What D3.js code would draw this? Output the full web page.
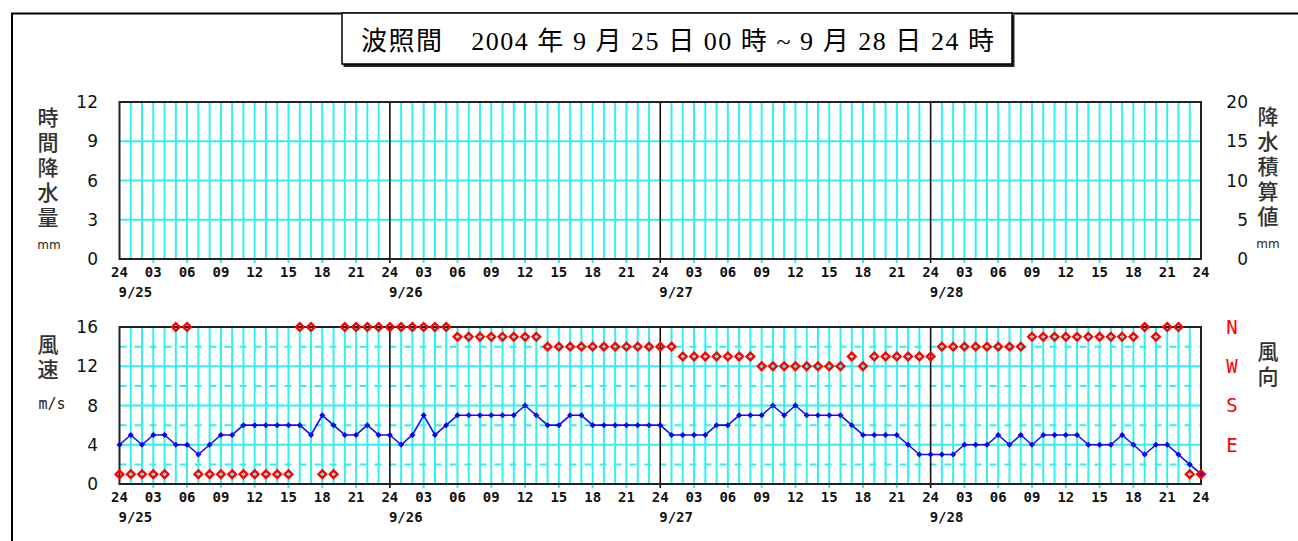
<!DOCTYPE html>
<html><head><meta charset="utf-8">
<script src="https://cdn.jsdelivr.net/npm/d3@7"></script>
<style>
html,body{margin:0;padding:0;background:#fff;}
svg{display:block;}
</style></head>
<body>
<svg id="c" width="1298" height="541"></svg>
<script>
// ---------- data ----------
const titleText = "波照間　2004 年 9 月 25 日 00 時 ~ 9 月 28 日 24 時";
const dayLabels = ["9/25", "9/26", "9/27", "9/28"];
const hours = d3.range(0, 97);              // hourly steps, 9/25 00h .. 9/28 24h
const rainHourly = [];                        // no rainfall recorded
const rainTicks = [0, 3, 6, 9, 12];
const rainAccTicks = [0, 5, 10, 15, 20];
const windTicks = [0, 4, 8, 12, 16];
const windDashTicks = [2, 6, 10, 14];
const dirLabels = [["N", 16], ["W", 12], ["S", 8], ["E", 4]];
// wind speed m/s, one value per hour
const windSpeed = [
  4,5,4,5,5,4,4,3,4,5,5,6,6,6,6,6,6,5,7,6,5,5,6,5,5,
  4,5,7,5,6,7,7,7,7,7,7,8,7,6,6,7,7,6,6,6,6,6,6,6,
  5,5,5,5,6,6,7,7,7,8,7,8,7,7,7,7,6,5,5,5,5,4,3,3,
  3,3,4,4,4,5,4,5,4,5,5,5,5,4,4,4,5,4,3,4,4,3,2,1
];
// wind direction, 16-point compass code (16=N, 12=W, 8=S, 4=E, 1=NNE)
const windDir = [
  1,1,1,1,1,16,16,1,1,1,1,1,1,1,1,1,16,16,1,1,16,16,16,16,16,
  16,16,16,16,16,15,15,15,15,15,15,15,15,14,14,14,14,14,14,14,14,14,14,
  14,14,13,13,13,13,13,13,13,12,12,12,12,12,12,12,12,13,12,13,13,13,13,13,13,
  14,14,14,14,14,14,14,14,15,15,15,15,15,15,15,15,15,15,16,15,16,16,1,1
];

// ---------- layout ----------
const svg = d3.select("#c");
const X0 = 119.5, X1 = 1201;
const x = d3.scaleLinear().domain([0, 96]).range([X0, X1]);
const yTop = d3.scaleLinear().domain([0, 12]).range([259, 102]);
const yTopR = d3.scaleLinear().domain([0, 20]).range([259, 102]);
const yBot = d3.scaleLinear().domain([0, 16]).range([484, 327]);
const CYAN = "#33f0f0";
const monoFont = "'DejaVu Sans Mono', monospace";
const sansFont = "'DejaVu Sans', sans-serif";
const cjkFont = "'Noto Sans CJK JP', sans-serif";

// outer frame
svg.append("path").attr("d", "M12,541 V13.5 H1298").attr("fill", "none")
  .attr("stroke", "#000").attr("stroke-width", 2);

// title box with shadow
svg.append("rect").attr("x", 343.5).attr("y", 15).attr("width", 671).attr("height", 52).attr("fill", "#222");
svg.append("rect").attr("x", 342).attr("y", 13).attr("width", 670).attr("height", 51)
  .attr("fill", "#fff").attr("stroke", "#000").attr("stroke-width", 1.5);
svg.append("text").attr("x", 361).attr("y", 50)
  .attr("font-family", "'Liberation Serif', 'Noto Sans CJK JP', serif")
  .attr("font-size", 26).attr("fill", "#000")
  .attr("textLength", 633).attr("lengthAdjust", "spacing")
  .text(titleText);

function panel(yScale, ticksSolid, ticksDash) {
  const g = svg.append("g");
  const [yb, yt] = yScale.range();
  g.selectAll("line.v").data(hours.filter(h => h > 0 && h < 96 && h % 24 !== 0)).join("line")
    .attr("x1", d => x(d)).attr("x2", d => x(d))
    .attr("y1", yt).attr("y2", d => d % 3 === 0 ? yb + 4 : yb)
    .attr("stroke", CYAN).attr("stroke-width", 2);
  g.selectAll("line.h").data(ticksSolid.slice(1, -1)).join("line")
    .attr("x1", X0).attr("x2", X1).attr("y1", d => yScale(d)).attr("y2", d => yScale(d))
    .attr("stroke", CYAN).attr("stroke-width", 2);
  g.selectAll("line.d").data(ticksDash).join("line")
    .attr("x1", X0).attr("x2", X1).attr("y1", d => yScale(d)).attr("y2", d => yScale(d))
    .attr("stroke", CYAN).attr("stroke-width", 2).attr("stroke-dasharray", "7,8");
  g.selectAll("line.day").data([24, 48, 72]).join("line")
    .attr("x1", d => x(d)).attr("x2", d => x(d)).attr("y1", yt).attr("y2", yb + 4)
    .attr("stroke", "#111").attr("stroke-width", 1.6);
  g.append("rect").attr("x", X0).attr("y", yt).attr("width", X1 - X0).attr("height", yb - yt)
    .attr("fill", "none").attr("stroke", "#222").attr("stroke-width", 2);
  const tickHours = hours.filter(h => h % 3 === 0);
  g.selectAll("text.xt").data(tickHours).join("text")
    .attr("x", d => x(d)).attr("y", yb + 18).attr("text-anchor", "middle")
    .attr("font-family", monoFont).attr("font-size", 14).attr("font-weight", "bold").attr("fill", "#111")
    .text(d => (d % 24 === 0) ? "24" : String(d % 24).padStart(2, "0"));
  g.selectAll("text.dl").data(dayLabels).join("text")
    .attr("x", (d, i) => x(i * 24) - 1).attr("y", yb + 38)
    .attr("font-family", monoFont).attr("font-size", 14).attr("font-weight", "bold").attr("fill", "#111")
    .text(d => d);
  return g;
}

// ---------- top panel: rainfall ----------
panel(yTop, rainTicks, []);
svg.selectAll("text.ly").data(rainTicks).join("text").attr("class", "ly")
  .attr("x", 98).attr("y", d => yTop(d)).attr("dy", "0.36em").attr("text-anchor", "end")
  .attr("font-family", sansFont).attr("font-size", 17).attr("fill", "#111").text(d => d);
svg.selectAll("text.ry").data(rainAccTicks).join("text").attr("class", "ry")
  .attr("x", 1248).attr("y", d => yTopR(d)).attr("dy", "0.36em").attr("text-anchor", "end")
  .attr("font-family", sansFont).attr("font-size", 17).attr("fill", "#111").text(d => d);
svg.selectAll("rect.rain").data(rainHourly).join("rect").attr("class", "rain")
  .attr("x", d => x(d.h) - 4).attr("width", 8)
  .attr("y", d => yTop(d.v)).attr("height", d => yTop(0) - yTop(d.v)).attr("fill", "#00f");

// vertical CJK label as one text element
function vlabel(chars, cx, yTopEdge) {
  svg.append("text").attr("x", cx).attr("y", yTopEdge)
    .attr("writing-mode", "vertical-rl").attr("glyph-orientation-vertical", 0)
    .style("writing-mode", "vertical-rl")
    .attr("letter-spacing", 4)
    .attr("font-family", cjkFont).attr("font-size", 21)
    .attr("font-weight", 500).attr("fill", "#333").text(chars);
}
vlabel("時間降水量", 48, 107);
vlabel("降水積算値", 1268, 106);
svg.append("text").attr("x", 49).attr("y", 245).attr("dy", "0.35em").attr("text-anchor", "middle")
  .attr("font-family", sansFont).attr("font-size", 12).attr("fill", "#222").text("mm");
svg.append("text").attr("x", 1268).attr("y", 244).attr("dy", "0.35em").attr("text-anchor", "middle")
  .attr("font-family", sansFont).attr("font-size", 12).attr("fill", "#222").text("mm");

// ---------- bottom panel: wind ----------
panel(yBot, windTicks, windDashTicks);
svg.selectAll("text.lw").data(windTicks).join("text").attr("class", "lw")
  .attr("x", 98).attr("y", d => yBot(d)).attr("dy", "0.36em").attr("text-anchor", "end")
  .attr("font-family", sansFont).attr("font-size", 17).attr("fill", "#111").text(d => d);
svg.selectAll("text.dir").data(dirLabels).join("text").attr("class", "dir")
  .attr("x", 1232).attr("y", d => yBot(d[1])).attr("dy", "0.36em").attr("text-anchor", "middle")
  .attr("font-family", monoFont).attr("font-size", 19).attr("fill", "#f00").text(d => d[0]);
vlabel("風速", 48, 334);
vlabel("風向", 1268, 341);
svg.append("text").attr("x", 52).attr("y", 404).attr("dy", "0.35em").attr("text-anchor", "middle")
  .attr("font-family", monoFont).attr("font-size", 15).attr("fill", "#222").text("m/s");

// wind speed line
const line = d3.line().x((d, i) => x(i)).y(d => yBot(d));
svg.append("path").datum(windSpeed).attr("d", line)
  .attr("fill", "none").attr("stroke", "#1010ff").attr("stroke-width", 1.6);
const diamond = r => `M0,${-r}L${r},0L0,${r}L${-r},0Z`;
svg.append("g").selectAll("path").data(windSpeed).join("path")
  .attr("transform", (d, i) => `translate(${x(i)},${yBot(d)})`)
  .attr("d", diamond(3)).attr("fill", "#0000ee");

// wind direction markers
svg.append("g").selectAll("path").data(windDir).join("path")
  .attr("transform", (d, i) => `translate(${x(i)},${yBot(d)})`)
  .attr("d", diamond(3.8))
  .attr("fill", "none").attr("stroke", "#ff0000").attr("stroke-width", 2.4);
</script>
</body></html>
